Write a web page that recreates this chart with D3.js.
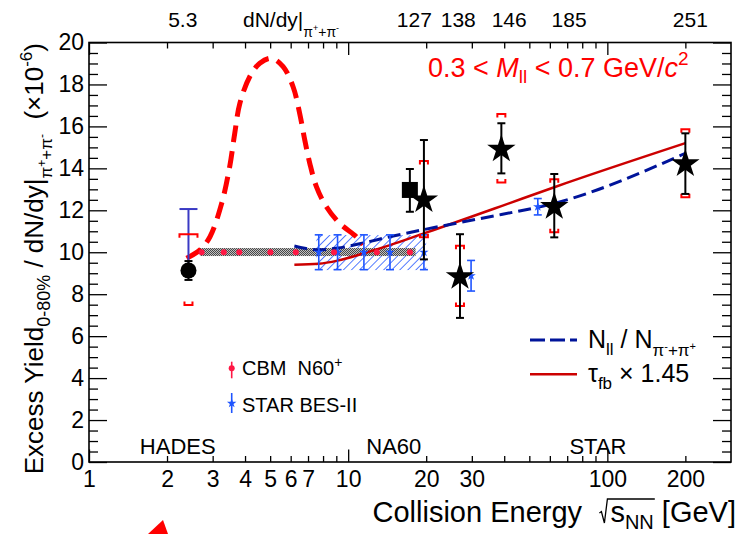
<!DOCTYPE html>
<html>
<head>
<meta charset="utf-8">
<script src="https://cdn.jsdelivr.net/npm/d3@7"></script>
<style>
  body { margin: 0; background: #fff; }
  svg { display: block; font-family: "Liberation Sans", Arial, sans-serif; }
</style>
</head>
<body>
<svg id="chart" width="742" height="534"></svg>
<script>
// ---- data ----
// CBM prediction curve (red dashed)
const cbmCurveE = [2.38, 2.68, 2.93, 3.25, 3.49, 3.65, 3.82, 4.17, 4.56, 5.06, 5.61, 6.13, 6.5, 6.8, 7.11, 7.54, 8.24, 9.27, 10.75, 11.4];
const cbmCurveY = [9.71, 10.11, 10.74, 12.33, 14.08, 15.67, 17.1, 18.37, 19.01, 19.25, 18.85, 17.89, 16.62, 15.35, 14.24, 13.13, 12.17, 11.38, 10.74, 10.35];
// CBM N60+ projected points
const cbmE = [2.72, 3.31, 3.8, 5.01, 6.28, 8.82, 12.9, 17.3];
const cbmY = [10.0, 10.0, 10.0, 10.0, 10.0, 10.0, 10.0, 10.0];
const cbmBandE = [2.68, 18.2];
const cbmBandLo = 9.82, cbmBandHi = 10.2;
// STAR BES-II projection
const besBandE = [7.54, 20.0];
const besBandLo = 9.15, besBandHi = 10.82;
const besE = [7.7, 9.1, 11.5, 14.5, 19.6, 29.8, 53.9];
const besY = [10.0, 10.0, 10.0, 10.0, 10.0, 8.88, 12.17];
const besErr = [0.83, 0.83, 0.83, 0.83, 0.83, 0.73, 0.39];
// STAR measurements
const starE = [19.6, 27, 39, 62.4, 200];
const starY = [12.49, 8.83, 14.91, 12.17, 14.21];
const starStatHi = [15.35, 10.86, 16.15, 13.73, 15.67];
const starStatLo = [9.66, 6.87, 13.76, 10.71, 12.78];
const starSysHi = [14.35, 10.31, 16.59, 13.48, 15.86];
const starSysLo = [10.71, 7.44, 13.32, 10.95, 12.62];
// NA60
const na60E = [17.3], na60Y = [12.97], na60Hi = [13.97], na60Lo = [11.93];
// HADES
const hadesE = [2.42], hadesY = [9.13], hadesStat = [0.45];
const hadesSysHi = [10.86], hadesSysLo = [7.48], hadesBlueHi = [12.06];
// model lines
const modelE = [6.2, 7.7, 9.1, 11.5, 14.6, 19.6, 27, 39, 62.4, 200];
const nllY = [10.3, 10.12, 10.2, 10.45, 10.75, 11.08, 11.42, 11.8, 12.33, 14.72];
const tauY = [9.4, 9.45, 9.6, 9.95, 10.35, 10.9, 11.5, 12.2, 13.1, 15.2];
// axes
const xMajor = [1, 10, 100];
const xMinor = [2, 3, 4, 5, 6, 7, 8, 9, 20, 30, 40, 50, 60, 70, 80, 90, 200];
const xLabels = [1, 2, 3, 4, 5, 6, 7, 10, 20, 30, 100, 200];
const yLabels = [0, 2, 4, 6, 8, 10, 12, 14, 16, 18, 20];
// top axis dN/dy labels
const topLabelE = [2.3, 18.0, 26.6, 41.8, 71.2, 209];
const topLabelText = ["5.3", "127", "138", "146", "185", "251"];
// experiment names
const expE = [2.2, 15, 92];
const expText = ["HADES", "NA60", "STAR"];

const svg = d3.select("#chart");
const x = d3.scaleLog().domain([1, 300]).range([89, 731]);
const y = d3.scaleLinear().domain([0, 20]).range([462, 42.5]);

const RED = "#ff0000", DRED = "#cc0000", NAVY = "#00149a", BLUE = "#1f55ff";

// rich text helper: parts = [text, offset(px, +down), size, italic]
function rich(sel, parts) {
    let prev = 0;
    parts.forEach(([t, off, size, it]) => {
        sel.append("tspan")
            .attr("dy", off - prev)
            .style("font-size", size + "px")
            .style("font-style", it ? "italic" : null)
            .text(t);
        prev = off;
    });
    return sel;
}

// patterns
const defs = svg.append("defs");
const checker = defs.append("pattern").attr("id", "checker")
    .attr("patternUnits", "userSpaceOnUse").attr("width", 2).attr("height", 2);
checker.append("rect").attr("width", 2).attr("height", 2).attr("fill", "#c0c0c0");
checker.append("rect").attr("width", 1).attr("height", 1).attr("fill", "#484848");
checker.append("rect").attr("x", 1).attr("y", 1).attr("width", 1).attr("height", 1).attr("fill", "#484848");
const hatch = defs.append("pattern").attr("id", "hatch")
    .attr("patternUnits", "userSpaceOnUse").attr("width", 5.7).attr("height", 5.7)
    .attr("patternTransform", "rotate(45)");
hatch.append("line").attr("x1", 0).attr("y1", 0).attr("x2", 0).attr("y2", 5.7)
    .attr("stroke", "#2a5cff").attr("stroke-width", 1.6);

const plot = svg.append("g");

// bands
plot.append("rect")
    .attr("x", x(besBandE[0])).attr("width", x(besBandE[1]) - x(besBandE[0]))
    .attr("y", y(besBandHi)).attr("height", y(besBandLo) - y(besBandHi))
    .attr("fill", "url(#hatch)");
plot.append("rect")
    .attr("x", x(cbmBandE[0])).attr("width", x(cbmBandE[1]) - x(cbmBandE[0]))
    .attr("y", y(cbmBandHi)).attr("height", y(cbmBandLo) - y(cbmBandHi))
    .attr("fill", "url(#checker)");

// model lines
const line = d3.line().x(d => x(d[0])).y(d => y(d[1]));
plot.append("path")
    .datum(modelE.map((e, i) => [e, tauY[i]]))
    .attr("d", line.curve(d3.curveMonotoneX))
    .attr("fill", "none").attr("stroke", DRED).attr("stroke-width", 2.5);
plot.append("path")
    .datum(modelE.map((e, i) => [e, nllY[i]]))
    .attr("d", line.curve(d3.curveMonotoneX))
    .attr("fill", "none").attr("stroke", NAVY).attr("stroke-width", 3)
    .attr("stroke-dasharray", "13,6");

// CBM curve
plot.append("path")
    .datum(cbmCurveE.map((e, i) => [e, cbmCurveY[i]]))
    .attr("d", line.curve(d3.curveCatmullRom))
    .attr("fill", "none").attr("stroke", RED).attr("stroke-width", 5)
    .attr("stroke-dasharray", "17,9");

// error bar helpers
function vbar(g, e, lo, hi, color, w, cap, capLo = true) {
    g.append("line").attr("x1", x(e)).attr("x2", x(e)).attr("y1", y(lo)).attr("y2", y(hi))
        .attr("stroke", color).attr("stroke-width", w);
    g.append("line").attr("x1", x(e) - cap / 2).attr("x2", x(e) + cap / 2).attr("y1", y(hi)).attr("y2", y(hi))
        .attr("stroke", color).attr("stroke-width", w);
    if (capLo) g.append("line").attr("x1", x(e) - cap / 2).attr("x2", x(e) + cap / 2).attr("y1", y(lo)).attr("y2", y(lo))
        .attr("stroke", color).attr("stroke-width", w);
}
function bracket(g, e, v, dir, w) {
    const cx = x(e), cy = y(v);
    g.append("path")
        .attr("d", `M${cx - w / 2},${cy + dir * 3.5}V${cy}H${cx + w / 2}V${cy + dir * 3.5}`)
        .attr("fill", "none").attr("stroke", RED).attr("stroke-width", 2);
}

// BES-II points
besE.forEach((e, i) => vbar(plot, e, besY[i] - besErr[i], besY[i] + besErr[i], BLUE, 1.6, 8));
plot.selectAll(".bes").data(besE).enter().append("path")
    .attr("transform", (d, i) => `translate(${x(d)},${y(besY[i])})`)
    .attr("d", d3.symbol(d3.symbolStar, 28)()).attr("fill", BLUE);

// CBM points
plot.selectAll(".cbm").data(cbmE).enter().append("circle")
    .attr("cx", d => x(d)).attr("cy", (d, i) => y(cbmY[i])).attr("r", 3)
    .attr("fill", "#ff1744");

// HADES
hadesE.forEach((e, i) => {
    vbar(plot, e, hadesY[i], hadesBlueHi[i], "#3a3ac4", 2, 18, false);
    bracket(plot, e, hadesSysHi[i], 1, 18);
    bracket(plot, e, hadesSysLo[i], -1, 8);
    vbar(plot, e, hadesY[i] - hadesStat[i], hadesY[i] + hadesStat[i], "#000", 2, 8);
    plot.append("circle").attr("cx", x(e)).attr("cy", y(hadesY[i])).attr("r", 8).attr("fill", "#000");
});

// NA60
na60E.forEach((e, i) => {
    vbar(plot, e, na60Lo[i], na60Hi[i], "#000", 2, 8);
    plot.append("rect").attr("x", x(e) - 8).attr("y", y(na60Y[i]) - 8)
        .attr("width", 16).attr("height", 16).attr("fill", "#000");
});

// STAR
starE.forEach((e, i) => {
    bracket(plot, e, starSysHi[i], 1, 8);
    bracket(plot, e, starSysLo[i], -1, 8);
    vbar(plot, e, starStatLo[i], starStatHi[i], "#000", 2, 8);
});
plot.selectAll(".star").data(starE).enter().append("path")
    .attr("transform", (d, i) => `translate(${x(d)},${y(starY[i])})`)
    .attr("d", d3.symbol(d3.symbolStar, 250)()).attr("fill", "#000");

// ---- axes ----
const axes = svg.append("g");
function drawAxis(axis, tf) {
    const g = axes.append("g").attr("transform", tf).call(axis);
    g.select(".domain").remove();
    g.selectAll(".tick line").attr("stroke", "#000").attr("stroke-width", 1.3);
    return g;
}
// x ticks, bottom and top
drawAxis(d3.axisBottom(x).tickValues(xMajor).tickSize(-12.5).tickFormat(""), "translate(0,462)");
drawAxis(d3.axisBottom(x).tickValues(xMinor).tickSize(-6).tickFormat(""), "translate(0,462)");
drawAxis(d3.axisTop(x).tickValues(xMajor).tickSize(-12.5).tickFormat(""), "translate(0,42.5)");
drawAxis(d3.axisTop(x).tickValues(xMinor).tickSize(-6).tickFormat(""), "translate(0,42.5)");
const yMinor = d3.range(0, 20.01, 0.5).filter(v => v % 2 !== 0);
drawAxis(d3.axisLeft(y).tickValues(yLabels).tickSize(-18).tickFormat(""), "translate(89,0)");
drawAxis(d3.axisLeft(y).tickValues(yMinor).tickSize(-9).tickFormat(""), "translate(89,0)");
drawAxis(d3.axisRight(y).tickValues(yLabels).tickSize(-18).tickFormat(""), "translate(731,0)");
drawAxis(d3.axisRight(y).tickValues(yMinor).tickSize(-9).tickFormat(""), "translate(731,0)");

// tick labels
const xl = drawAxis(d3.axisBottom(x).tickValues(xLabels).tickSize(0).tickPadding(9).tickFormat(d3.format("d")), "translate(0,462)");
xl.selectAll("text").style("font-size", "23px").attr("fill", "#000");
const yl = drawAxis(d3.axisLeft(y).tickValues(yLabels).tickSize(0).tickPadding(5).tickFormat(d3.format("d")), "translate(89,0)");
yl.selectAll("text").style("font-size", "23px").attr("fill", "#000");

// frame
svg.append("rect").attr("x", 89).attr("y", 42.5).attr("width", 731 - 89).attr("height", 462 - 42.5)
    .attr("fill", "none").attr("stroke", "#000").attr("stroke-width", 1.6);

// top dN/dy labels
svg.selectAll(".toplab").data(topLabelE).enter().append("text")
    .attr("x", d => x(d)).attr("y", 27).attr("text-anchor", "middle")
    .style("font-size", "21px").text((d, i) => topLabelText[i]);
rich(svg.append("text").attr("x", 243).attr("y", 27).style("font-size", "21px"), [
    ["dN/dy|", 0, 21], ["\u03c0", 10, 14], ["+", 4, 9], ["+\u03c0", 10, 14], ["-", 4, 9]
]);

// experiment names
svg.selectAll(".exp").data(expE).enter().append("text")
    .attr("x", d => x(d)).attr("y", 454).attr("text-anchor", "middle")
    .style("font-size", "22px").text((d, i) => expText[i]);

// axis titles
const xt = rich(svg.append("text").attr("x", 736).attr("y", 522).attr("text-anchor", "end").style("font-size", "29px"), [
    ["Collision Energy \u2002\u2009", 0, 29], ["s", 0, 29], ["NN", 7, 20], [" [GeV]", 0, 29]
]);
{
    // radical sign drawn by hand over s_NN
    const n = xt.node();
    const full = n.textContent;
    const iS = full.indexOf("s", 17), iN = full.indexOf("NN") + 1;
    const s = n.getExtentOfChar(iS), nn = n.getExtentOfChar(iN);
    const base = 522, top = base - 23;
    svg.append("path")
        .attr("d", `M${s.x - 11},${base - 9}L${s.x - 9},${base - 10.5}L${s.x - 6},${base + 1}L${s.x - 3},${top}H${nn.x + nn.width + 1}`)
        .attr("fill", "none").attr("stroke", "#000").attr("stroke-width", 1.3);
}
rich(svg.append("text").attr("transform", "translate(43,43) rotate(-90)").attr("text-anchor", "end").style("font-size", "26px"), [
    ["Excess Yield", 0, 26], ["0-80%", 7, 18], [" / dN/dy|", 0, 26],
    ["\u03c0", 9, 17], ["+", 3, 12], ["+\u03c0", 9, 17], ["-", 3, 12],
    ["\u00a0 (\u00d710", 0, 26], ["-6", -11, 17], [")", 0, 26]
]);

// red mass window text
rich(svg.append("text").attr("x", 428).attr("y", 77).attr("fill", RED).style("font-size", "27px"), [
    ["0.3 < ", 0, 27], ["M", 0, 27, true], ["ll", 6, 19], [" < 0.7 GeV/", 0, 27], ["c", 0, 27, true], ["2", -12, 19]
]);

// left legend
const lg = svg.append("g");
lg.append("line").attr("x1", 231.7).attr("x2", 231.7).attr("y1", 361.7).attr("y2", 378.3).attr("stroke", "#ff1744").attr("stroke-width", 1.6);
lg.append("circle").attr("cx", 231.7).attr("cy", 368.3).attr("r", 3).attr("fill", "#ff1744");
rich(lg.append("text").attr("x", 242).attr("y", 375).style("font-size", "20px"), [["CBM\u00a0\u00a0N60", 0, 20], ["+", -8, 14]]);
lg.append("line").attr("x1", 231.7).attr("x2", 231.7).attr("y1", 393).attr("y2", 413).attr("stroke", BLUE).attr("stroke-width", 1.6);
lg.append("path").attr("transform", "translate(231.7,403.3)").attr("d", d3.symbol(d3.symbolStar, 28)()).attr("fill", BLUE);
lg.append("text").attr("x", 242).attr("y", 411.7).style("font-size", "20px").text("STAR BES-II");

// right legend
lg.append("line").attr("x1", 530).attr("x2", 577).attr("y1", 340).attr("y2", 340)
    .attr("stroke", NAVY).attr("stroke-width", 3).attr("stroke-dasharray", "15,5");
rich(lg.append("text").attr("x", 588).attr("y", 348.3).style("font-size", "25px"), [
    ["N", 0, 25], ["ll", 7, 17], [" / N", 0, 25], ["\u03c0", 8, 17], ["-", 2, 11], ["+\u03c0", 8, 17], ["+", 2, 11]
]);
lg.append("line").attr("x1", 530).attr("x2", 577).attr("y1", 374.3).attr("y2", 374.3)
    .attr("stroke", DRED).attr("stroke-width", 2.5);
rich(lg.append("text").attr("x", 588).attr("y", 381.7).style("font-size", "25px"), [
    ["\u03c4", 0, 25], ["fb", 7, 17], [" \u00d7 1.45", 0, 25]
]);

// red arrow head peeking in at the bottom
svg.append("path").attr("d", "M148,534L163,520L168,534Z").attr("fill", RED);
</script>
</body>
</html>
